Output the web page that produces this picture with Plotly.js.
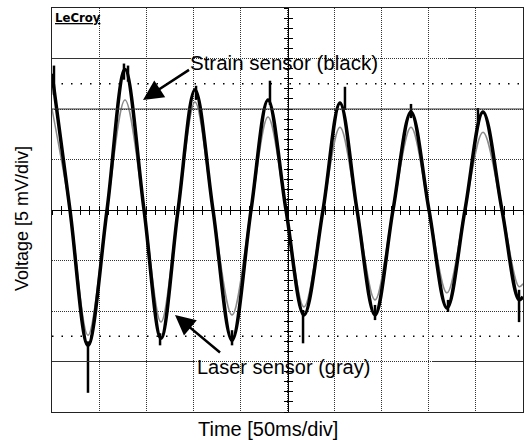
<!DOCTYPE html>
<html>
<head>
<meta charset="utf-8">
<script src="https://cdn.plot.ly/plotly-3.0.1.min.js"></script>
<style>html,body{margin:0;padding:0;background:#fff}#chart{width:526px;height:440px}</style>
</head>
<body>
<div id="chart"></div>
<script>
// Time axis in ms (50 ms/div, 10 div), voltage in mV (5 mV/div, 8 div)
const timeMs = [0, 19.1, 38.2, 58.4, 77.5, 97.7, 115.7, 133.8, 151.8, 170.9, 191.1, 211.3,
  229.3, 248.4, 267.5, 287.7, 305.7, 323.8, 342.9, 362.0, 381.1, 400.2, 419.3, 438.4,
  457.5, 477.7, 495.8, 500];
const strainMv = [13.5, 0, -13.4, 0, 13.9, 0, -12.7, 0, 11.9, 0, -12.9, 0,
  10.9, 0, -10.4, 0, 10.6, 0, -10.4, 0, 9.7, 0, -9.7, 0,
  9.7, 0, -8.9, -8.6];
const laserMv = [10.0, 0, -12.4, 0, 10.9, 0, -11.1, 0, 10.7, 0, -10.4, 0,
  9.2, 0, -9.6, 0, 8.2, 0, -8.9, 0, 8.2, 0, -8.2, 0,
  7.7, 0, -7.6, -7.3];
// noise spikes on the strain trace (time, from, to)
const spikeTimeMs = [2.1, 38.2, 76.4, 80.7, 114.7, 152.9, 191.1, 231.4, 266.5, 311.0, 342.9, 381.1, 420.4, 452.2, 495.8];
const spikeFromMv = [11.4, -13.0, 12.9, 12.7, -12.2, 10.9, -11.9, 10.4, -9.9, 9.9, -9.4, 9.1, -8.9, 8.4, -7.9];
const spikeToMv = [14.3, -18.1, 14.5, 14.3, -13.4, 12.3, -13.4, 12.8, -13.2, 12.2, -10.9, 10.5, -10.1, 10.1, -11.1];

const sx = [], sy = [];
spikeTimeMs.forEach((t, i) => { sx.push(t, t, null); sy.push(spikeFromMv[i], spikeToMv[i], null); });

const traces = [
  {x: timeMs, y: laserMv, mode: 'lines', line: {color: '#8a8a8a', width: 1.5, shape: 'spline', smoothing: 1}, hoverinfo: 'skip'},
  {x: timeMs, y: strainMv, mode: 'lines', line: {color: '#000', width: 3.5, shape: 'spline', smoothing: 1}, hoverinfo: 'skip'},
  {x: sx, y: sy, mode: 'lines', line: {color: '#000', width: 2.5}, hoverinfo: 'skip', connectgaps: false},
  {x: [null], y: [null], xaxis: 'x2', yaxis: 'y'},
  {x: [null], y: [null], xaxis: 'x3', yaxis: 'y'},
  {x: [null], y: [null], xaxis: 'x', yaxis: 'y2'},
  {x: [null], y: [null], xaxis: 'x', yaxis: 'y3'}
];

const F = 'Liberation Sans, Arial, sans-serif';
const centerX = {overlaying: 'x', anchor: 'free', position: 0.5, range: [0, 500], showline: true, linecolor: '#000', linewidth: 1,
  ticklen: 4, tickwidth: 1, tickcolor: '#000', dtick: 10, tick0: 0, showticklabels: false, showgrid: false, zeroline: false};
const centerY = {overlaying: 'y', anchor: 'free', position: 0.5, range: [-20, 20], showline: true, linecolor: '#000', linewidth: 1,
  ticklen: 4, tickwidth: 1, tickcolor: '#000', dtick: 1, tick0: 0, showticklabels: false, showgrid: false, zeroline: false};

const layout = {
  width: 526, height: 440,
  margin: {l: 52, r: 3, t: 8, b: 28},
  paper_bgcolor: '#fff', plot_bgcolor: '#fff',
  showlegend: false,
  xaxis: {range: [0, 500], dtick: 50, tick0: 0, showticklabels: false, ticks: '', showgrid: true, gridcolor: '#333',
    griddash: '1px,1px', gridwidth: 1, zeroline: false, showline: true, mirror: true, linecolor: '#222', linewidth: 1},
  yaxis: {range: [-20, 20], dtick: 5, tick0: 0, showticklabels: false, ticks: '', showgrid: true, gridcolor: '#333',
    griddash: '1px,1px', gridwidth: 1, zeroline: false, showline: true, mirror: true, linecolor: '#222', linewidth: 1},
  xaxis2: Object.assign({}, centerX, {ticks: 'outside'}),
  xaxis3: Object.assign({}, centerX, {ticks: 'inside'}),
  yaxis2: Object.assign({}, centerY, {ticks: 'outside'}),
  yaxis3: Object.assign({}, centerY, {ticks: 'inside'}),
  shapes: [
    {type: 'line', xref: 'paper', yref: 'y', x0: 0, x1: 1, y0: 12.5, y1: 12.5, line: {color: '#000', width: 1.5, dash: '1.5px,8px'}},
    {type: 'line', xref: 'paper', yref: 'y', x0: 0, x1: 1, y0: -12.5, y1: -12.5, line: {color: '#000', width: 1.5, dash: '1.5px,8px'}},
    {type: 'line', xref: 'paper', yref: 'y', x0: 0, x1: 1, y0: 10, y1: 10, line: {color: '#333', width: 1}},
    {type: 'line', xref: 'paper', yref: 'y', x0: 0, x1: 0.293, y0: 15, y1: 15, line: {color: '#333', width: 1}},
    {type: 'line', xref: 'paper', yref: 'y', x0: 0.843, x1: 1, y0: 15, y1: 15, line: {color: '#333', width: 1}},
    {type: 'line', xref: 'paper', yref: 'y', x0: 0, x1: 0.304, y0: -15, y1: -15, line: {color: '#333', width: 1}},
    {type: 'line', xref: 'paper', yref: 'y', x0: 0.809, x1: 1, y0: -15, y1: -15, line: {color: '#333', width: 1}}
  ],
  annotations: [
    {xref: 'paper', yref: 'paper', x: 0.002, y: 0.977, xanchor: 'left', yanchor: 'middle', showarrow: false,
      text: '<b><u>LeCroy</u></b>', font: {family: 'DejaVu Sans Condensed, sans-serif', size: 13, color: '#000'}},
    {xref: 'paper', yref: 'paper', x: 0.2887, y: 0.866, xanchor: 'left', yanchor: 'middle', showarrow: false,
      text: 'Strain sensor (black)', font: {family: F, size: 20.5, color: '#000'}},
    {xref: 'x', yref: 'y', x: 96.6, y: 10.9, ax: 49, ay: -32, text: ' ', showarrow: true, arrowhead: 2, arrowsize: 1.6,
      arrowwidth: 2.5, arrowcolor: '#000', standoff: 0},
    {xref: 'paper', yref: 'paper', x: 0.3036, y: 0.1114, xanchor: 'left', yanchor: 'middle', showarrow: false,
      text: 'Laser sensor (gray)', font: {family: F, size: 20, color: '#000'}},
    {xref: 'x', yref: 'y', x: 130.6, y: -10.4, ax: 48, ay: 40, text: ' ', showarrow: true, arrowhead: 2, arrowsize: 1.6,
      arrowwidth: 2.5, arrowcolor: '#000', standoff: 0},
    {xref: 'paper', yref: 'paper', x: 0.4586, y: -0.042, xanchor: 'center', yanchor: 'middle', showarrow: false,
      text: 'Time [50ms/div]', font: {family: F, size: 20, color: '#000'}},
    {xref: 'paper', yref: 'paper', x: -0.0637, y: 0.48, xanchor: 'center', yanchor: 'middle', showarrow: false, textangle: -90,
      text: 'Voltage [5 mV/div]', font: {family: F, size: 18, color: '#000'}}
  ]
};

Plotly.newPlot('chart', traces, layout, {staticPlot: true, displayModeBar: false});
</script>
</body>
</html>
